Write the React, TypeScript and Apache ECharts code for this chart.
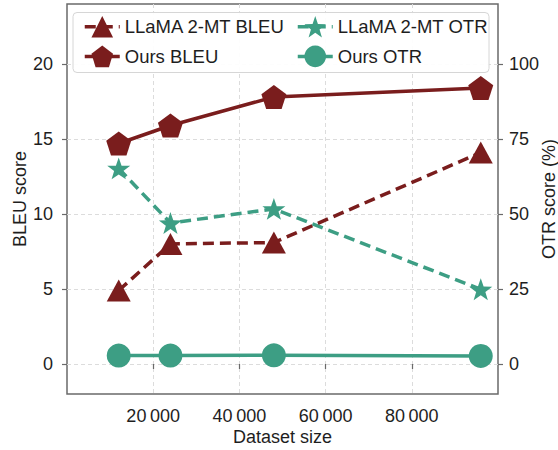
import React, { useEffect, useRef } from "react";
import * as echarts from "echarts";

// ---- Data ----
const datasetSizes = [12000, 24000, 48000, 96000];
const llamaBleu = [4.9, 8.0, 8.1, 14.1];
const oursBleu = [14.7, 15.9, 17.8, 18.4];
const llamaOtr = [65.2, 47.0, 51.7, 24.9];
const oursOtr = [2.8, 2.8, 2.9, 2.7];

const xTickValues = [20000, 40000, 60000, 80000];
const bleuTickValues = [0, 5, 10, 15, 20];
const otrTickValues = [0, 25, 50, 75, 100];

const seriesNames = {
  llamaBleu: "LLaMA 2-MT BLEU",
  llamaOtr: "LLaMA 2-MT OTR",
  oursBleu: "Ours BLEU",
  oursOtr: "Ours OTR",
};

// ---- Styles ----
const MAROON = "#7a1d1d";
const TEAL = "#3d9e84";
const FRAME = "#6a6a6a";
const TEXT = "#1e1e1e";
const FONT = "'Liberation Sans', Arial, Helvetica, sans-serif";
const LW = 3.5;

function polygonPath(n: number, rOuter: number, rInner: number | null): string {
  const pts: string[] = [];
  const count = rInner == null ? n : n * 2;
  for (let i = 0; i < count; i++) {
    const r = rInner == null ? rOuter : i % 2 === 0 ? rOuter : rInner;
    const a = -Math.PI / 2 + (i * 2 * Math.PI) / count;
    pts.push(`${(50 + r * Math.cos(a)).toFixed(2)},${(50 + r * Math.sin(a)).toFixed(2)}`);
  }
  return "path://M" + pts.join(" L") + " Z";
}
const PENTAGON = polygonPath(5, 50, null);
const STAR = polygonPath(5, 50, 20);

const fmtThousands = (v: number) => {
  const s = String(Math.round(v));
  return s.length > 3 ? s.slice(0, -3) + "\u2009" + s.slice(-3) : s;
};

const pairs = (ys: number[]) => datasetSizes.map((x, i) => [x, ys[i]]);

export default function App() {
  const ref = useRef<HTMLDivElement>(null);
  useEffect(() => {
    document.body.style.margin = "0";
    if (!ref.current) return;
    const chart = echarts.init(ref.current, null, { renderer: "svg" });
    const labelStyle = { fontSize: 18, color: TEXT, fontFamily: FONT };
    const legendBase = {
      orient: "vertical",
      top: 11,
      itemWidth: 35,
      itemHeight: 27,
      itemGap: 8,
      z: 5,
      lineStyle: { width: LW },
      textStyle: { ...labelStyle, fontSize: 18.5 },
    };
    chart.setOption({
      animation: false,
      backgroundColor: "#ffffff",
      textStyle: { fontFamily: FONT },
      grid: {
        left: 67,
        right: 60,
        top: 4,
        bottom: 56,
        containLabel: false,
        outerBoundsMode: "none",
        show: true,
        borderColor: FRAME,
        borderWidth: 1.5,
        backgroundColor: "transparent",
      },
      graphic: [
        {
          type: "rect",
          z: 3,
          shape: { x: 73, y: 12.5, width: 416, height: 60, r: 4 },
          style: { fill: "rgba(255,255,255,0.92)", stroke: "#d6d6d6", lineWidth: 1 },
        },
      ],
      legend: [
        { ...legendBase, left: 78, data: [seriesNames.llamaBleu, seriesNames.oursBleu] },
        { ...legendBase, left: 291, data: [seriesNames.llamaOtr, seriesNames.oursOtr] },
      ],
      xAxis: {
        type: "value",
        min: 0,
        max: 100000,
        interval: 20000,
        name: "Dataset size",
        nameLocation: "middle",
        nameGap: 34,
        nameMoveOverlap: false,
        nameTextStyle: labelStyle,
        axisLine: { show: false },
        axisTick: {
          show: true,
          length: 5,
          customValues: xTickValues,
          lineStyle: { color: FRAME, width: 1.2 },
        },
        axisLabel: {
          ...labelStyle,
          margin: 13,
          customValues: xTickValues,
          formatter: (v: number) => fmtThousands(v),
        },
        splitLine: {
          show: true,
          lineStyle: { color: "#dcdcdc", type: [4, 3], width: 1 },
        },
      },
      yAxis: [
        {
          type: "value",
          position: "left",
          min: -2,
          max: 24,
          splitNumber: 5,
          name: "BLEU score",
          nameLocation: "middle",
          nameGap: 38,
          nameMoveOverlap: false,
          nameTextStyle: labelStyle,
          axisLine: { show: false },
          axisTick: {
            show: true,
            length: 5,
            customValues: bleuTickValues,
            lineStyle: { color: FRAME, width: 1.2 },
          },
          axisLabel: { ...labelStyle, margin: 14, customValues: bleuTickValues },
          splitLine: {
            show: true,
            lineStyle: { color: "#dcdcdc", type: [4, 3], width: 1 },
          },
        },
        {
          type: "value",
          position: "right",
          min: -10,
          max: 120,
          name: "OTR score (%)",
          nameLocation: "middle",
          nameGap: 42,
          nameMoveOverlap: false,
          nameTextStyle: labelStyle,
          axisLine: { show: false },
          axisTick: {
            show: true,
            length: 5,
            customValues: otrTickValues,
            lineStyle: { color: FRAME, width: 1.2 },
          },
          axisLabel: { ...labelStyle, margin: 11, customValues: otrTickValues },
          splitLine: { show: false },
        },
      ],
      series: [
        {
          name: seriesNames.oursOtr,
          type: "line",
          yAxisIndex: 1,
          data: pairs(oursOtr),
          symbol: "circle",
          symbolSize: 24,
          itemStyle: { color: TEAL },
          lineStyle: { color: TEAL, width: LW },
          z: 2,
        },
        {
          name: seriesNames.llamaOtr,
          type: "line",
          yAxisIndex: 1,
          data: pairs(llamaOtr),
          symbol: STAR,
          symbolKeepAspect: true,
          symbolSize: 23,
          itemStyle: { color: TEAL },
          lineStyle: { color: TEAL, width: LW, type: [11, 6] },
          z: 3,
        },
        {
          name: seriesNames.llamaBleu,
          type: "line",
          yAxisIndex: 0,
          data: pairs(llamaBleu),
          symbol: "triangle",
          symbolSize: [24, 22],
          itemStyle: { color: MAROON },
          lineStyle: { color: MAROON, width: LW, type: [11, 6] },
          z: 4,
        },
        {
          name: seriesNames.oursBleu,
          type: "line",
          yAxisIndex: 0,
          data: pairs(oursBleu),
          symbol: PENTAGON,
          symbolKeepAspect: true,
          symbolSize: 25,
          itemStyle: { color: MAROON },
          lineStyle: { color: MAROON, width: LW },
          z: 5,
        },
      ],
    });
    return () => chart.dispose();
  }, []);
  return <div ref={ref} style={{ width: 558, height: 450 }} />;
}
